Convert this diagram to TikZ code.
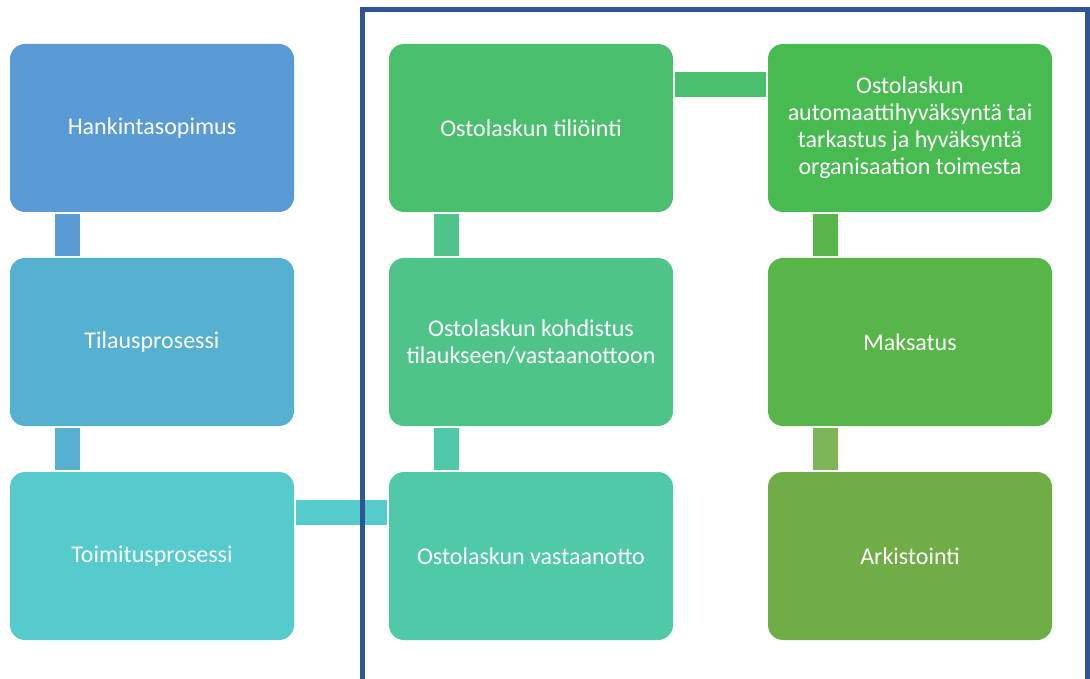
\documentclass[tikz,border=0pt]{standalone}
\usepackage{fontspec}
\setmainfont{Carlito}
\usepackage{tikz}
\usetikzlibrary{positioning}

\definecolor{stepA}{HTML}{5B9BD5}
\definecolor{stepB}{HTML}{56B0CF}
\definecolor{stepC}{HTML}{55CBCD}
\definecolor{stepD}{HTML}{50C9A9}
\definecolor{stepE}{HTML}{4EC48A}
\definecolor{stepF}{HTML}{4ABF6D}
\definecolor{stepG}{HTML}{48BB50}
\definecolor{stepH}{HTML}{58B548}
\definecolor{stepI}{HTML}{70AD47}
\definecolor{frameblue}{HTML}{2F5597}

\tikzset{
  phase/.style={rectangle, rounded corners=15pt, minimum width=284pt,
    minimum height=168pt, inner sep=0pt, text=white, align=center,
    font=\fontsize{24}{27}\selectfont},
  link/.style={line width=25pt, shorten >=2pt, shorten <=2pt}
}

\begin{document}
\begin{tikzpicture}[x=1pt,y=-1pt,node distance=214pt and 379pt,on grid]
            \useasboundingbox (0,0) rectangle (1090,679);
            \node[phase, fill=stepA] (hank) at (152,128) {Hankintasopimus};
            \node[phase, fill=stepB] (tilaus) [below=of hank] {Tilausprosessi};
            \node[phase, fill=stepC] (toimitus) [below=of tilaus] {Toimitusprosessi};
            \node[phase, fill=stepD] (vast) [right=of toimitus] {Ostolaskun vastaanotto};
            \node[phase, fill=stepE] (kohd) [above=of vast] {Ostolaskun kohdistus\\tilaukseen/vastaanottoon};
            \node[phase, fill=stepF] (tili) [above=of kohd] {Ostolaskun tiliöinti};
            \node[phase, fill=stepG] (hyv) [right=of tili] {Ostolaskun\\automaattihyväksyntä tai\\tarkastus ja hyväksyntä\\organisaation toimesta};
            \node[phase, fill=stepH] (maks) [below=of hyv] {Maksatus};
            \node[phase, fill=stepI] (ark) [below=of maks] {Arkistointi};
            \path[link]
                ([xshift=-85pt]hank.south)
                    edge[draw=stepA] ([xshift=-85pt]tilaus.north)
                ([xshift=-85pt]tilaus.south)
                    edge[draw=stepB] ([xshift=-85pt]toimitus.north)
                ([yshift=43.5pt]toimitus.east)
                    edge[draw=stepC] ([yshift=43.5pt]vast.west)
                ([xshift=-85pt]vast.north)
                    edge[draw=stepD] ([xshift=-85pt]kohd.south)
                ([xshift=-85pt]kohd.north)
                    edge[draw=stepE] ([xshift=-85pt]tili.south)
                ([yshift=43.5pt]tili.east)
                    edge[draw=stepF] ([yshift=43.5pt]hyv.west)
                ([xshift=-85pt]hyv.south)
                    edge[draw=stepH!90!stepG] ([xshift=-85pt]maks.north)
                ([xshift=-85pt]maks.south)
                    edge[draw=stepI!90!white] ([xshift=-85pt]ark.north);
            \draw[frameblue, line width=5pt] (362,10) rectangle (1087,690);
        \end{tikzpicture}
\end{document}
